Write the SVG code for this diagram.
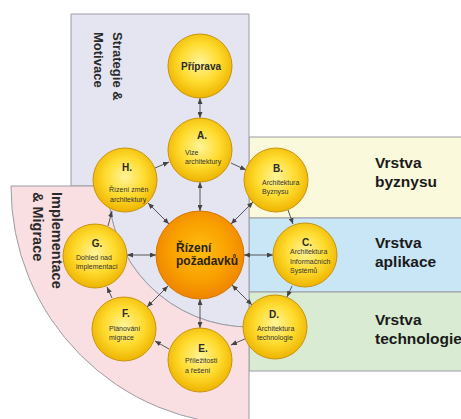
<svg xmlns="http://www.w3.org/2000/svg" width="461" height="419" viewBox="0 0 461 419">
<style>
.bg{stroke:#9c9ca4;stroke-width:1}
.node{fill:url(#gy);stroke:#c89410;stroke-width:1}
.core{fill:url(#go);stroke:#d27a00;stroke-width:1}
.lt{font-family:"Liberation Sans",Arial,sans-serif;font-weight:bold;font-size:10px;fill:#2a2a2a;text-anchor:middle}
.st{font-family:"Liberation Sans",Arial,sans-serif;font-size:7px;fill:#333}
.ct{font-family:"Liberation Sans",Arial,sans-serif;font-weight:bold;font-size:12px;fill:#2a2210}
.band{font-family:"Liberation Sans",Arial,sans-serif;font-weight:bold;font-size:15.5px;fill:#1a1a1a}
.side{font-family:"Liberation Sans",Arial,sans-serif;font-weight:bold;fill:#2a2a2a}
.c{stroke:#555;stroke-width:1;fill:none}
.d{marker-start:url(#ah);marker-end:url(#ah)}
.s{marker-end:url(#ah)}
</style>
<defs>
<radialGradient id="gy" cx="50%" cy="45%" r="55%">
<stop offset="0" stop-color="#fff49a"/>
<stop offset="0.55" stop-color="#ffdc30"/>
<stop offset="1" stop-color="#eeb400"/>
</radialGradient>
<radialGradient id="go" cx="50%" cy="45%" r="55%">
<stop offset="0" stop-color="#ffbe10"/>
<stop offset="0.6" stop-color="#f9a000"/>
<stop offset="1" stop-color="#ef8400"/>
</radialGradient>
<marker id="ah" viewBox="0 0 6 5" refX="6" refY="2.5" markerWidth="6" markerHeight="5" markerUnits="userSpaceOnUse" orient="auto-start-reverse">
<path d="M0,0 L6,2.5 L0,5 z" fill="#444"/>
</marker>
</defs>

<g id="layers">
<rect id="band-byznys" class="bg" x="249" y="137" width="214" height="81" fill="#fbf9dc"/>
<rect id="band-aplikace" class="bg" x="249" y="218" width="214" height="74" fill="#c9e6f6"/>
<rect id="band-technologie" class="bg" x="249" y="292" width="214" height="79" fill="#d9ebd2"/>
<path id="area-strategie" class="bg" d="M71,14 H249 V327 A141,141 0 0 1 108,186 H71 Z" fill="#e5e5f1"/>
<path id="area-implementace" class="bg" d="M11,186 H108 A141,141 0 0 0 249,327 V425 A238,238 0 0 1 11,186 Z" fill="#f9dfe2"/>
<text class="band" x="375" y="168">Vrstva</text>
<text class="band" x="375" y="187">byznysu</text>
<text class="band" x="375" y="248">Vrstva</text>
<text class="band" x="375" y="267">aplikace</text>
<text class="band" x="375" y="325">Vrstva</text>
<text class="band" x="375" y="344">technologie</text>
<text class="side" font-size="13px" transform="translate(113,32) rotate(90)">Strategie &amp;</text>
<text class="side" font-size="13px" transform="translate(93.5,32) rotate(90)">Motivace</text>
<text class="side" font-size="14.5px" transform="translate(51.5,192) rotate(90)">Implementace</text>
<text class="side" font-size="14.5px" transform="translate(33,192) rotate(90)">&amp; Migrace</text>
</g>

<g id="connectors">
<line class="c d" x1="200" y1="98" x2="200" y2="118"/>
<line class="c d" x1="200" y1="211" x2="200" y2="182"/>
<line class="c d" x1="200" y1="299" x2="200" y2="328"/>
<line class="c d" x1="156" y1="255" x2="127" y2="255"/>
<line class="c d" x1="244" y1="255" x2="273" y2="255"/>
<line class="c d" x1="231" y1="224" x2="253" y2="202"/>
<line class="c d" x1="232" y1="285" x2="252" y2="305"/>
<line class="c d" x1="168" y1="286" x2="147" y2="307"/>
<line class="c d" x1="169" y1="224" x2="148" y2="203"/>
<line class="c s" x1="155" y1="168" x2="169" y2="162"/>
<line class="c s" x1="231" y1="163" x2="246" y2="170"/>
<line class="c s" x1="288" y1="210" x2="293" y2="224"/>
<line class="c s" x1="292" y1="286" x2="287" y2="297"/>
<line class="c s" x1="247" y1="338" x2="231" y2="345"/>
<line class="c s" x1="169" y1="349" x2="155" y2="341"/>
<line class="c s" x1="112" y1="298" x2="107" y2="287"/>
<line class="c s" x1="108" y1="226" x2="112" y2="211"/>
</g>

<g id="node-priprava">
<circle class="node" cx="200" cy="66" r="32"/>
<text class="lt" x="201" y="70">Příprava</text>
</g>
<g id="node-a">
<circle class="node" cx="200" cy="150" r="32"/>
<text class="lt" x="202" y="139">A.</text>
<text class="st" x="185" y="155">Vize</text>
<text class="st" x="185" y="164">architektury</text>
</g>
<g id="node-b">
<circle class="node" cx="276" cy="180" r="32"/>
<text class="lt" x="278" y="172">B.</text>
<text class="st" x="262" y="185">Architektura</text>
<text class="st" x="262" y="193.5">Byznysu</text>
</g>
<g id="node-c">
<circle class="node" cx="305" cy="255" r="32"/>
<text class="lt" x="307" y="246">C.</text>
<text class="st" x="290" y="254">Architektura</text>
<text class="st" x="290" y="263.5">Informačních</text>
<text class="st" x="290" y="273">Systémů</text>
</g>
<g id="node-d">
<circle class="node" cx="275" cy="327" r="32"/>
<text class="lt" x="274" y="318">D.</text>
<text class="st" x="257" y="331">Architektura</text>
<text class="st" x="257" y="340">technologie</text>
</g>
<g id="node-e">
<circle class="node" cx="200" cy="360" r="32"/>
<text class="lt" x="203" y="352">E.</text>
<text class="st" x="185" y="363">Příležitosti</text>
<text class="st" x="185" y="373">a řešení</text>
</g>
<g id="node-f">
<circle class="node" cx="124" cy="329" r="32"/>
<text class="lt" x="126" y="317">F.</text>
<text class="st" x="109" y="331">Plánování</text>
<text class="st" x="109" y="340">migrace</text>
</g>
<g id="node-g">
<circle class="node" cx="95" cy="256" r="32"/>
<text class="lt" x="97" y="247">G.</text>
<text class="st" x="76" y="260">Dohled nad</text>
<text class="st" x="76" y="269">implementací</text>
</g>
<g id="node-h">
<circle class="node" cx="125" cy="180" r="32"/>
<text class="lt" x="127" y="171">H.</text>
<text class="st" x="109" y="192">Řízení změn</text>
<text class="st" x="110" y="202">architektury</text>
</g>
<g id="node-center">
<circle class="core" cx="200" cy="255" r="44"/>
<text class="ct" x="176" y="252">Řízení</text>
<text class="ct" x="176" y="265">požadavků</text>
</g>
</svg>
